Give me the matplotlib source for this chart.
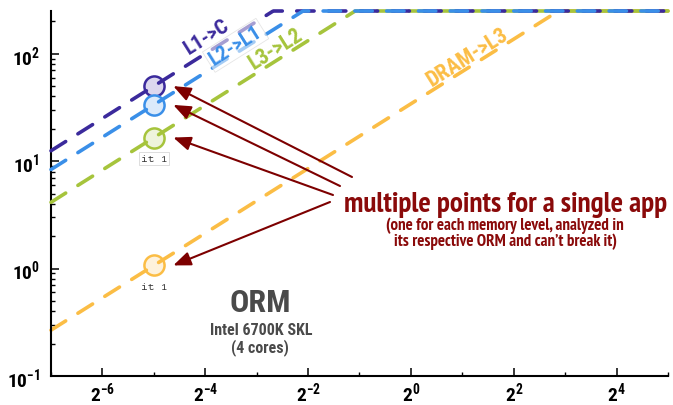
import math
import numpy as np
import matplotlib
matplotlib.use("Agg")
import matplotlib.pyplot as plt
from matplotlib import transforms
from matplotlib import font_manager as fm
from matplotlib.ticker import FixedLocator, FuncFormatter, NullFormatter

# Roofline data: one roof per memory level, Intel 6700K SKL (4 cores)
levels = ["L1->C", "L2->L1", "L3->L2", "DRAM->L3"]
bandwidth = [1600.0, 1070.0, 530.0, 34.2]      # GB/s
peak_perf = 250.0                               # GFLOP/s
app_ai = [2**-5, 2**-5, 2**-5, 2**-5]           # FLOP/byte of the app per level
app_perf = [50.0, 33.4, 16.6, 1.07]             # GFLOP/s of the app per level
app_tags = ["", "", "it 1", "it 1"]

x_major = [2.0**k for k in range(-6, 5, 2)]
x_minor = [2.0**k for k in range(-7, 6, 2)]
y_major = [10.0**k for k in range(-1, 3)]

line_colors = ["#3b2a9c", "#3a8fe8", "#a6c43c", "#fbbd45"]
fill_colors = ["#dcd7ee", "#dbeafb", "#eef4dc", "#fef2dc"]
line_z = [4, 5, 3, 2]

_installed = {f.name for f in fm.fontManager.ttflist}


def pick(*names):
    for n in names:
        if n in _installed:
            return n
    return "Liberation Sans"


COND = pick("Roboto Condensed", "Archivo Narrow", "Barlow Semi Condensed",
            "Liberation Sans Narrow")
NOTE = pick("PT Sans Narrow", "Open Sans Condensed", "Roboto Condensed",
            "Archivo Narrow", "Liberation Sans Narrow")
MONO = pick("Courier Prime", "Nimbus Mono PS", "Cousine", "Liberation Mono")

plt.rcParams["mathtext.fontset"] = "custom"
plt.rcParams["mathtext.bf"] = COND + ":bold"
plt.rcParams["mathtext.rm"] = COND

W, H = 673, 406
fig = plt.figure(figsize=(W / 100, H / 100), dpi=100)
ax = fig.add_axes([51 / W, 29 / H, 617 / W, 365 / H])
ax.set_xscale("log", base=2)
ax.set_yscale("log")
ax.set_xlim(2**-7, 2**5)
ax.set_ylim(0.1, peak_perf)

xs = np.geomspace(2**-7, 2**5, 600)
for bw, c, z in zip(bandwidth, line_colors, line_z):
    ax.plot(xs, np.minimum(bw * xs, peak_perf), color=c, lw=2.6,
            dashes=(4.8, 4.0), dash_capstyle="round", clip_on=False, zorder=z)

for ai, perf, c, fc, tag in zip(app_ai, app_perf, line_colors, fill_colors, app_tags):
    ax.plot([ai], [perf], marker="o", ms=14.5, mfc=fc, mec=c, mew=1.8,
            ls="none", zorder=1.5)
    if tag:
        box = None
        if perf > 10:
            box = dict(boxstyle="square,pad=0.15", fc="white", ec="#d8d8d8", lw=0.6)
        ax.annotate(tag, (ai, perf), xytext=(0, -15), textcoords="offset points",
                    ha="center", va="center", fontsize=8, family=MONO,
                    color="#333333", bbox=box, zorder=6)

# Roof labels, rotated to follow the sloped part of each roof
p1 = ax.transData.transform((2**-6, 1.0))
p2 = ax.transData.transform((2**-5, 2.0))
angle = math.degrees(math.atan2(p2[1] - p1[1], p2[0] - p1[0]))
label_x = [2**-3.98, 2**-3.41, 2**-2.62, 2**1.1]
label_lift = [1.45, 1.19, 1.30, 1.30]
label_size = [15, 15, 15.5, 15.5]
for name, bw, c, lx, lift, fs in zip(levels, bandwidth, line_colors, label_x,
                                     label_lift, label_size):
    box = None
    if name == "L2->L1":
        box = dict(boxstyle="square,pad=0.12", fc="white", ec="#d0d0d0", lw=0.6, alpha=0.55)
    ax.text(lx, bw * lx * lift, name, rotation=angle, rotation_mode="anchor",
            ha="center", va="center", color=c, fontsize=fs, fontweight="bold",
            family=COND, bbox=box, zorder=7)

# Arrows from the note to each of the app's points
tails = [(352, 178), (340, 187), (333, 196), (330, 203)]
tip_shift = transforms.offset_copy(ax.transData, fig=fig, x=14, y=0, units="points")
for ai, perf, (tx, ty) in zip(app_ai, app_perf, tails):
    ax.annotate("", xy=(ai, perf), xycoords=tip_shift,
                xytext=(tx, H - ty), textcoords="figure pixels",
                arrowprops=dict(arrowstyle="-|>,head_length=0.7,head_width=0.28",
                                mutation_scale=15, color="#7d0000", lw=1.5,
                                shrinkA=0, shrinkB=0), zorder=8)

red = "#8a0a0a"
fig.text(505.5 / W, 1 - 212 / H, "multiple points for a single app", ha="center",
         va="baseline", color=red, fontsize=21, fontweight="bold", family=NOTE)
fig.text(505 / W, 1 - 230 / H, "(one for each memory level, analyzed in", ha="center",
         va="baseline", color=red, fontsize=12.2, fontweight="bold", family=NOTE)
fig.text(505 / W, 1 - 246 / H, "its respective ORM and can\u2019t break it)", ha="center",
         va="baseline", color=red, fontsize=12.2, fontweight="bold", family=NOTE)

gray = "#4a4a4a"
fig.text(260 / W, 1 - 311.5 / H, "ORM", ha="center", va="baseline", color=gray,
         fontsize=23, fontweight="bold", family=COND)
fig.text(261 / W, 1 - 335 / H, "Intel 6700K SKL", ha="center", va="baseline",
         color=gray, fontsize=11.5, fontweight="bold", family=COND)
fig.text(260 / W, 1 - 352 / H, "(4 cores)", ha="center", va="baseline",
         color=gray, fontsize=11.5, fontweight="bold", family=COND)

# Axes styling
for side in ("top", "right"):
    ax.spines[side].set_visible(False)
for side in ("left", "bottom"):
    ax.spines[side].set_linewidth(1.5)
    ax.spines[side].set_color("black")

ax.xaxis.set_major_locator(FixedLocator(x_major))
ax.xaxis.set_minor_locator(FixedLocator(x_minor))
ax.xaxis.set_major_formatter(FuncFormatter(
    lambda v, _: r"$\mathbf{2^{%d}}$" % round(math.log2(v))))
ax.xaxis.set_minor_formatter(NullFormatter())
ax.yaxis.set_major_locator(FixedLocator(y_major))
y_minor = [m * 10.0**k for k in range(-1, 2) for m in range(2, 10)] + [200.0]
ax.yaxis.set_minor_locator(FixedLocator(y_minor))
ax.yaxis.set_major_formatter(FuncFormatter(
    lambda v, _: r"$\mathbf{10^{%d}}$" % round(math.log10(v))))
ax.yaxis.set_minor_formatter(NullFormatter())

ax.tick_params(which="major", direction="in", length=5.5, width=1.1, labelsize=14,
               colors="black")
ax.tick_params(which="minor", direction="in", length=3, width=1.0)
ax.tick_params(axis="y", which="major", pad=8)
ax.tick_params(axis="x", which="major", pad=3)

fig.savefig("out.png", dpi=100)
